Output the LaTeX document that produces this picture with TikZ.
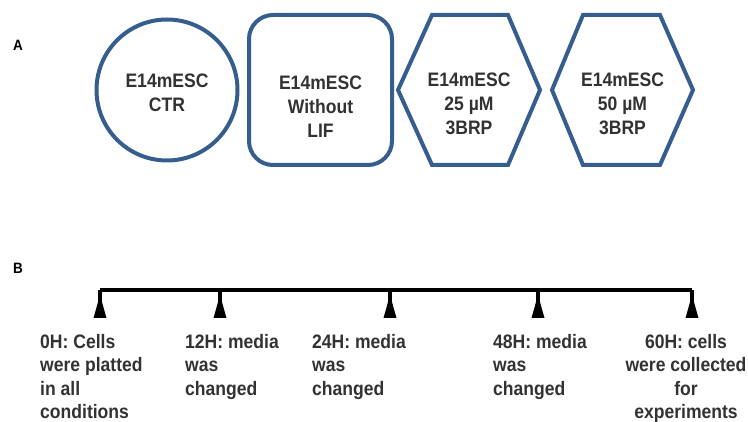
\documentclass[tikz,border=0pt]{standalone}
\usepackage{fontspec}
\setmainfont{Liberation Sans}[FakeStretch=0.9]
\definecolor{shapeblue}{RGB}{53,94,142}
\definecolor{txt}{RGB}{50,50,50}
\begin{document}
\begin{tikzpicture}[x=1pt,y=-1pt,
  lbl/.style={font=\fontsize{19.5}{23.5}\selectfont\bfseries, text=txt, inner sep=0pt, align=left},
  shp/.style={draw=shapeblue, line width=4pt},
  ctext/.style={font=\fontsize{19.5}{24}\selectfont\bfseries, text=txt, inner sep=0pt, align=center},
  panel/.style={font=\fontsize{15}{17}\selectfont\bfseries, inner sep=0pt},
  tl/.style={line width=4pt, black}]
\useasboundingbox (0,0) rectangle (748,422);
% panel labels
\node[panel] (pa) at (18,45) {A};
\node[panel] (pb) at (18,268) {B};
% panel A shapes
\node[shp, circle, minimum size=141pt, inner sep=0pt] (ctr) at (167,90) {};
\node[ctext] (ctrt) at (167,93) {E14mESC\\CTR};
\node[shp, rectangle, rounded corners=24pt, minimum width=143pt, minimum height=150pt] (lif) at (320.5,90) {};
\node[ctext] (lift) at (320.5,106.5) {E14mESC\\Without\\LIF};
\draw[shp] (398,90) -- (432,15) -- (508,15) -- (540,90) -- (508,165) -- (432,165) -- cycle;
\node[ctext] (h25) at (469,103.5) {E14mESC\\25 µM\\3BRP};
\draw[shp] (552,90) -- (583,15) -- (660,15) -- (693,90) -- (660,165) -- (583,165) -- cycle;
\node[ctext] (h50) at (622.5,103.5) {E14mESC\\50 µM\\3BRP};
% timeline
\coordinate (t0) at (100,290);
\coordinate (t1) at (220,290);
\coordinate (t2) at (390,290);
\coordinate (t3) at (538,290);
\coordinate (t4) at (692,290);
\draw[tl] (t0) -- (t4);
\foreach \t in {t0,t1,t2,t3,t4}{
  \draw[line width=3.5pt] (\t) -- ++(0,12);
  \fill (\t) ++(0,5) -- ++(6.5,23) -- ++(-13,0) -- cycle;
}
\node[lbl, anchor=north west] (l0) at (40,334) {0H: Cells\\were platted\\in all\\conditions};
\node[lbl, anchor=north west] (l1) at (185,334) {12H: media\\was\\changed};
\node[lbl, anchor=north west] (l2) at (312,334) {24H: media\\was\\changed};
\node[lbl, anchor=north west] (l3) at (493,334) {48H: media\\was\\changed};
\node[lbl, anchor=north, align=center] (l4) at (686,334) {60H: cells\\were collected\\for\\experiments};
\end{tikzpicture}
\end{document}
